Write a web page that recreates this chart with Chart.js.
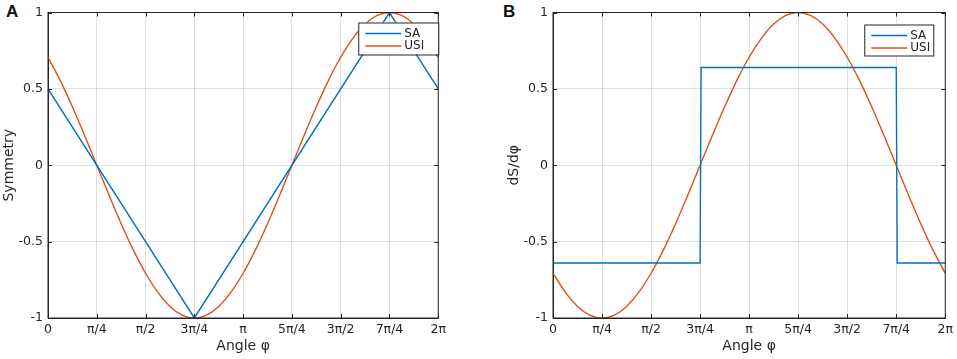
<!DOCTYPE html>
<html>
<head>
<meta charset="utf-8">
<script src="https://cdn.jsdelivr.net/npm/chart.js@4.4.1/dist/chart.umd.min.js"></script>
<style>
  html, body { margin: 0; padding: 0; background: #fff; }
  body { width: 957px; height: 359px; position: relative; overflow: hidden; }
  .panel { position: absolute; top: 0; height: 359px; }
  .tag { position: absolute; top: 2px; font: bold 17px "Liberation Sans", Arial, sans-serif; color: #111; }
</style>
</head>
<body>
<div class="tag" style="left:6px">A</div>
<div class="tag" style="left:503px">B</div>
<div class="panel" style="left:0; width:450px"><canvas id="chart-a"></canvas></div>
<div class="panel" style="left:505px; width:452px"><canvas id="chart-b"></canvas></div>
<script>
// x positions are in units of pi/4
const tickLabels = ['0', 'π/4', 'π/2', '3π/4', 'π', '5π/4', '3π/2', '7π/4', '2π'];
const angles = [0, 0.25, 0.5, 0.75, 1, 1.25, 1.5, 1.75, 2, 2.25, 2.5, 2.75, 3, 3.25, 3.5, 3.75,
    4, 4.25, 4.5, 4.75, 5, 5.25, 5.5, 5.75, 6, 6.25, 6.5, 6.75, 7, 7.25, 7.5, 7.75, 8];

// Panel A: symmetry
const saSymX = [0, 3, 7, 8];
const saSymY = [0.5, -1, 1, 0.5];
const usiSym = [0.707, 0.556, 0.383, 0.195, 0, -0.195, -0.383, -0.556, -0.707, -0.831, -0.924,
    -0.981, -1, -0.981, -0.924, -0.831, -0.707, -0.556, -0.383, -0.195, 0, 0.195, 0.383, 0.556,
    0.707, 0.831, 0.924, 0.981, 1, 0.981, 0.924, 0.831, 0.707];

// Panel B: dS/dphi
const saDerX = [0, 3, 3.02, 7, 7.02, 8];
const saDerY = [-0.64, -0.64, 0.64, 0.64, -0.64, -0.64];
const usiDer = [-0.707, -0.831, -0.924, -0.981, -1, -0.981, -0.924, -0.831, -0.707, -0.556, -0.383,
    -0.195, 0, 0.195, 0.383, 0.556, 0.707, 0.831, 0.924, 0.981, 1, 0.981, 0.924, 0.831, 0.707,
    0.556, 0.383, 0.195, 0, -0.195, -0.383, -0.556, -0.707];

const BLUE = '#0072BD';
const ORANGE = '#D95319';
const AXIS = '#262626';
const GRID = 'rgba(38,38,38,0.15)';
const FONT = '"DejaVu Sans", sans-serif';

const pts = (xs, ys) => xs.map((x, i) => ({ x: x, y: ys[i] }));

// box on all sides, inward ticks, and a legend inside the axes
const matlabAxes = {
    id: 'matlabAxes',
    afterDatasetsDraw(chart, args, opts) {
        const { ctx, chartArea: a, scales } = chart;
        ctx.save();
        ctx.strokeStyle = AXIS;
        ctx.lineWidth = 1;
        ctx.strokeRect(a.left, a.top, a.right - a.left, a.bottom - a.top);
        ctx.beginPath();
        scales.x.ticks.forEach(t => {
            const px = Math.round(scales.x.getPixelForValue(t.value)) + 0.5;
            ctx.moveTo(px, a.bottom); ctx.lineTo(px, a.bottom - 4);
            ctx.moveTo(px, a.top); ctx.lineTo(px, a.top + 4);
        });
        scales.y.ticks.forEach(t => {
            const py = Math.round(scales.y.getPixelForValue(t.value)) + 0.5;
            ctx.moveTo(a.left, py); ctx.lineTo(a.left + 4, py);
            ctx.moveTo(a.right, py); ctx.lineTo(a.right - 4, py);
        });
        ctx.stroke();

        // legend
        const bx = a.right - opts.right - opts.width;
        const by = a.top + opts.top;
        ctx.fillStyle = '#fff';
        ctx.fillRect(bx, by, opts.width, opts.height);
        ctx.strokeStyle = AXIS;
        ctx.strokeRect(bx + 0.5, by + 0.5, opts.width, opts.height);
        ctx.font = '12px ' + FONT;
        ctx.textBaseline = 'middle';
        chart.data.datasets.forEach((ds, i) => {
            const ly = by + 11 + i * 12.5;
            ctx.strokeStyle = ds.borderColor;
            ctx.lineWidth = 1.4;
            ctx.beginPath();
            ctx.moveTo(bx + 7, ly); ctx.lineTo(bx + 43, ly);
            ctx.stroke();
            ctx.fillStyle = AXIS;
            ctx.fillText(ds.label, bx + 46, ly);
        });
        ctx.restore();
    }
};

function makeChart(id, saData, usiData, yTitle, legendBox) {
    return new Chart(document.getElementById(id).getContext('2d'), {
        type: 'line',
        data: {
            datasets: [{
                label: 'SA',
                data: saData,
                borderColor: BLUE,
                borderWidth: 1.4,
                pointRadius: 0,
                tension: 0
            }, {
                label: 'USI',
                data: pts(angles, usiData),
                borderColor: ORANGE,
                borderWidth: 1.4,
                pointRadius: 0,
                cubicInterpolationMode: 'monotone'
            }]
        },
        options: {
            responsive: true,
            maintainAspectRatio: false,
            animation: false,
            layout: { padding: { top: 9, right: 11, left: 0, bottom: 0 } },
            plugins: {
                legend: { display: false },
                tooltip: { enabled: false },
                matlabAxes: legendBox
            },
            scales: {
                x: {
                    type: 'linear',
                    min: 0,
                    max: 8,
                    afterFit(scale) { scale.height = 41; },
                    ticks: {
                        stepSize: 1,
                        autoSkip: false,
                        maxRotation: 0,
                        padding: 4,
                        color: AXIS,
                        font: { family: FONT, size: 12.5 },
                        callback: v => tickLabels[v]
                    },
                    grid: { color: GRID, drawTicks: false },
                    border: { color: AXIS },
                    title: {
                        display: true,
                        text: 'Angle φ',
                        color: AXIS,
                        font: { family: FONT, size: 14 },
                        padding: { top: 4, bottom: 4 }
                    }
                },
                y: {
                    min: -1,
                    max: 1,
                    afterFit(scale) { scale.width = 48; },
                    ticks: {
                        stepSize: 0.5,
                        padding: 5,
                        color: AXIS,
                        font: { family: FONT, size: 12.5 },
                        callback: v => String(v)
                    },
                    grid: { color: GRID, drawTicks: false },
                    border: { color: AXIS },
                    title: {
                        display: true,
                        text: yTitle,
                        color: AXIS,
                        font: { family: FONT, size: 14 },
                        padding: { top: 1, bottom: 1 }
                    }
                }
            }
        },
        plugins: [matlabAxes]
    });
}

makeChart('chart-a', pts(saSymX, saSymY), usiSym, 'Symmetry', { right: 0, top: 10, width: 80, height: 32 });
makeChart('chart-b', pts(saDerX, saDerY), usiDer, 'dS/dφ', { right: 12, top: 12, width: 69, height: 31 });
</script>
</body>
</html>
